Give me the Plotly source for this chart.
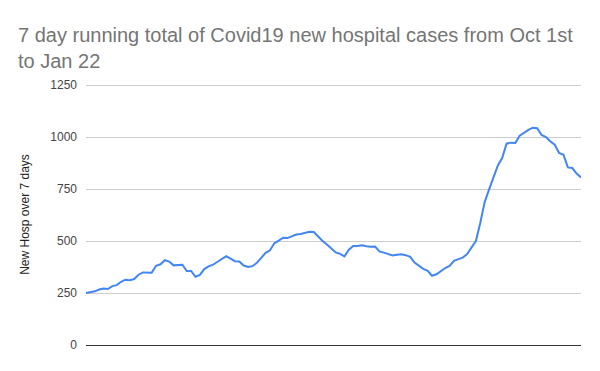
import plotly.graph_objects as go
import pandas as pd

dates = pd.date_range("2020-10-01", "2021-01-22", freq="D").strftime("%Y-%m-%d").tolist()

new_hosp_7day = [
    250, 253, 258, 267, 272, 269, 283, 288, 304, 314,
    311, 317, 338, 349, 349, 348, 381, 388, 408, 401,
    383, 384, 386, 356, 356, 328, 337, 365, 378, 386,
    400, 410, 427, 415, 403, 402, 382, 375, 379, 395,
    420, 443, 455, 489, 502, 516, 514, 521, 531, 534,
    538, 545, 543, 521, 500, 483, 465, 445, 438, 426,
    458, 476, 476, 479, 475, 472, 473, 450, 444, 438,
    431, 434, 436, 432, 424, 396, 380, 366, 357, 333,
    340, 356, 370, 380, 405, 413, 420, 437, 470, 500,
    587, 686, 747, 808, 862, 899, 968, 973, 971, 1006,
    1021, 1034, 1045, 1042, 1010, 1000, 979, 963, 923, 915,
    854, 851, 824, 806,
]

y_ticks = [0, 250, 500, 750, 1000, 1250]

title_text = "7 day running total of Covid19 new hospital cases from Oct 1st<br>to Jan 22"
y_title = "New Hosp over 7 days"

fig = go.Figure(
    go.Scatter(
        x=dates,
        y=new_hosp_7day,
        mode="lines",
        line=dict(color="#4285F4", width=2),
        hoverinfo="x+y",
    )
)

fig.update_layout(
    width=600,
    height=371,
    paper_bgcolor="white",
    plot_bgcolor="white",
    margin=dict(l=86, r=19, t=84, b=26),
    font=dict(family="Liberation Sans, Arial, sans-serif"),
    title=dict(
        text=title_text,
        font=dict(size=20, color="#757575", family="Liberation Sans, Arial, sans-serif"),
        xref="container",
        yref="container",
        x=0.03,
        xanchor="left",
        y=1 - 42 / 371,
        yanchor="top",
    ),
    showlegend=False,
)

fig.update_xaxes(
    type="category",
    showticklabels=False,
    showgrid=False,
    zeroline=False,
    showline=False,
    ticks="",
    range=[0, len(dates) - 1],
)

fig.update_yaxes(
    range=[0, 1255],
    tickvals=y_ticks,
    ticktext=[str(v) for v in y_ticks],
    tickfont=dict(size=12, color="#444444"),
    gridcolor="#cccccc",
    gridwidth=1,
    zeroline=True,
    zerolinecolor="#333333",
    zerolinewidth=1,
    showline=False,
    ticks="",
    ticklabelstandoff=8,
    title=dict(text=y_title, font=dict(size=12, color="#222222"), standoff=18),
)

fig.write_html("out.html")
